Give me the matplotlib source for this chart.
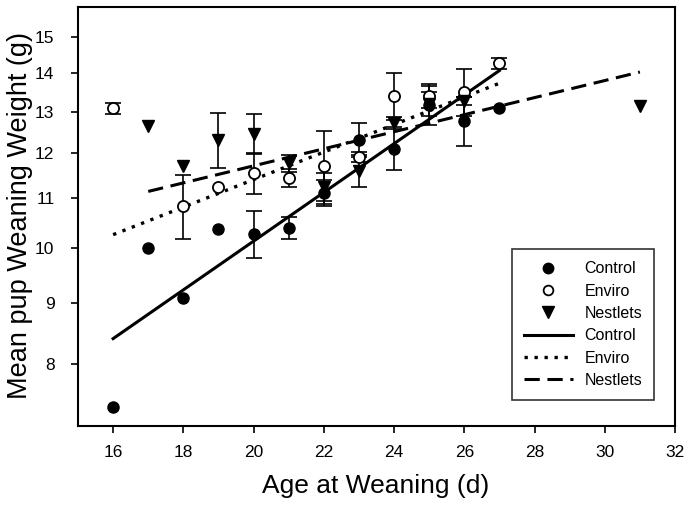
import matplotlib
matplotlib.use("Agg")
import matplotlib.pyplot as plt
from matplotlib.lines import Line2D
from matplotlib.ticker import FixedLocator, NullLocator, FixedFormatter

plt.rcParams['font.family'] = ['Liberation Sans', 'DejaVu Sans']

# Data
control_x = [16, 17, 18, 19, 20, 21, 22, 23, 24, 25, 26, 27]
control_y = [7.37, 10.0, 9.09, 10.37, 10.27, 10.40, 11.12, 12.31, 12.11, 13.17, 12.77, 13.10]
control_err = [0, 0, 0, 0, 0.46, 0.22, 0.28, 0.40, 0.50, 0.50, 0.60, 0]

enviro_x = [16, 18, 19, 20, 21, 22, 23, 24, 25, 26, 27]
enviro_y = [13.08, 10.84, 11.25, 11.55, 11.45, 11.70, 11.92, 13.40, 13.40, 13.50, 14.27]
enviro_err = [0.13, 0.66, 0, 0.45, 0.20, 0.82, 0.12, 0.60, 0.30, 0.60, 0.15]

nest_x = [17, 18, 19, 20, 21, 22, 23, 24, 25, 26, 31]
nest_y = [12.65, 11.70, 12.31, 12.46, 11.77, 11.25, 11.60, 12.72, 13.20, 13.28, 13.14]
nest_err = [0, 0, 0.65, 0.48, 0.20, 0.30, 0.35, 0.15, 0.30, 0.10, 0]

control_fit_x = [16, 27]
control_fit_y = [8.40, 14.07]
enviro_fit_x = [16, 27]
enviro_fit_y = [10.26, 13.73]
nest_fit_x = [17, 31]
nest_fit_y = [11.15, 14.03]

x_ticks = [16, 18, 20, 22, 24, 26, 28, 30, 32]
y_ticks = [8, 9, 10, 11, 12, 13, 14, 15]

fig = plt.figure(figsize=(6.91, 5.11), dpi=100)
ax = fig.add_axes([78/691, 1-426/511, (675-78)/691, (426-7)/511])
ax.set_yscale('log')

def errs(x, y, e):
    xs = [a for a, b in zip(x, e) if b > 0]
    ys = [a for a, b in zip(y, e) if b > 0]
    es = [b for b in e if b > 0]
    ax.errorbar(xs, ys, yerr=es, fmt='none', ecolor='black', elinewidth=1.2,
                capsize=5.5, capthick=1.2, zorder=2)

errs(control_x, control_y, control_err)
errs(enviro_x, enviro_y, enviro_err)
errs(nest_x, nest_y, nest_err)

ax.plot(control_fit_x, control_fit_y, color='black', lw=2.2, ls='-', zorder=3)
ax.plot(enviro_fit_x, enviro_fit_y, color='black', lw=2.4, ls=(0, (1, 2.0)), zorder=3)
ax.plot(nest_fit_x, nest_fit_y, color='black', lw=2.2, ls=(0, (5, 2.5)), zorder=3)

ax.plot(control_x, control_y, 'o', color='black', ms=8, zorder=4)
ax.plot(enviro_x, enviro_y, 'o', mfc='white', mec='black', mew=1.3, ms=8, zorder=4)
ax.plot(nest_x, nest_y, 'v', color='black', ms=8.5, zorder=4)

ax.set_xlim(15, 32)
ax.set_ylim(7.1, 15.9)
ax.xaxis.set_major_locator(FixedLocator(x_ticks))
ax.yaxis.set_major_locator(FixedLocator(y_ticks))
ax.yaxis.set_major_formatter(FixedFormatter([str(v) for v in y_ticks]))
ax.yaxis.set_minor_locator(NullLocator())
ax.tick_params(direction='out', length=5, width=1.2, labelsize=12.5)
ax.tick_params(axis='x', pad=9)
ax.tick_params(axis='y', pad=12)
for s in ax.spines.values():
    s.set_linewidth(1.5)

ax.set_xlabel('Age at Weaning (d)', fontsize=19)
ax.set_ylabel('Mean pup Weaning Weight (g)', fontsize=19.5)
ax.xaxis.set_label_coords((376 - 78) / 597, -(474 - 426) / 419)
ax.yaxis.set_label_coords(-(78 - 33) / 597, (426 - 215) / 419)

handles = [
    Line2D([], [], marker='o', ls='none', color='black', ms=7.5),
    Line2D([], [], marker='o', ls='none', mfc='white', mec='black', mew=1.3, ms=7),
    Line2D([], [], marker='v', ls='none', color='black', ms=8),
    Line2D([], [], color='black', lw=2.2, ls='-'),
    Line2D([], [], color='black', lw=2.4, ls=(0, (1, 2.0))),
    Line2D([], [], color='black', lw=2.2, ls=(0, (5, 2.5))),
]
labels = ['Control', 'Enviro', 'Nestlets', 'Control', 'Enviro', 'Nestlets']
leg = ax.legend(handles, labels, loc='lower right', bbox_to_anchor=(654/691, 1-400/511),
                bbox_transform=fig.transFigure, fontsize=11.5, frameon=True, fancybox=False,
                edgecolor='black', handlelength=3.1, labelspacing=0.46, borderpad=0.75,
                handletextpad=0.7, borderaxespad=0)
leg.get_frame().set_linewidth(1.2)

fig.savefig('out.png', dpi=100)
